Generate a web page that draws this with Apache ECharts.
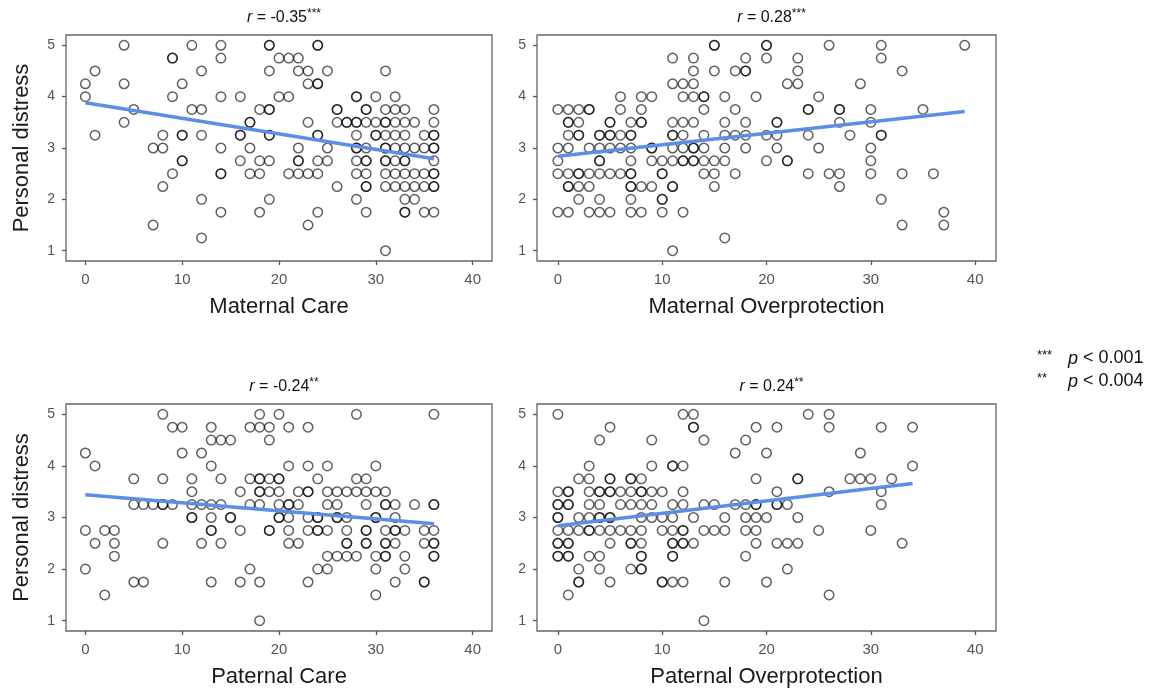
<!DOCTYPE html>
<html>
<head>
<meta charset="utf-8">
<script src="https://cdn.jsdelivr.net/npm/echarts@6/dist/echarts.min.js"></script>
<style>
  html, body { margin: 0; padding: 0; background: #fff; }
  #chart { width: 1160px; height: 692px; }
</style>
</head>
<body>
<div id="chart"></div>
<script>
// each row: [distress value, [scores at that value]]
const maternalCare = [
  [5, [4, 11, 14, 19, 19, 24, 24]],
  [4.75, [9, 9, 14, 20, 21, 22]],
  [4.5, [1, 12, 19, 22, 23, 25, 31]],
  [4.25, [0, 4, 10, 23, 24, 24]],
  [4, [0, 9, 14, 16, 20, 21, 28, 28, 30, 32]],
  [3.75, [5, 11, 12, 18, 19, 19, 26, 26, 29, 29, 31, 32, 33, 36]],
  [3.5, [4, 17, 17, 23, 26, 27, 27, 28, 28, 29, 30, 31, 31, 32, 33, 34, 36]],
  [3.25, [1, 8, 10, 10, 12, 16, 16, 19, 19, 24, 24, 28, 30, 30, 31, 32, 33, 35, 36, 36]],
  [3, [7, 8, 14, 17, 22, 25, 28, 28, 29, 31, 31, 32, 33, 34, 35, 36, 36]],
  [2.75, [10, 10, 16, 18, 19, 22, 22, 24, 25, 28, 29, 29, 31, 31, 32, 33, 33, 36]],
  [2.5, [9, 14, 14, 17, 18, 21, 22, 23, 24, 28, 29, 31, 32, 33, 34, 35, 36, 36]],
  [2.25, [8, 26, 29, 29, 31, 32, 33, 34, 35, 36, 36]],
  [2, [12, 19, 28, 33, 34]],
  [1.75, [14, 18, 24, 29, 33, 33, 35, 36]],
  [1.5, [7, 23]],
  [1.25, [12]],
  [1, [31]]
];
const maternalOverprotection = [
  [5, [15, 15, 20, 20, 26, 31, 39]],
  [4.75, [11, 13, 18, 20, 23, 31]],
  [4.5, [13, 15, 17, 18, 18, 23, 33]],
  [4.25, [11, 12, 13, 22, 23, 29]],
  [4, [6, 8, 9, 12, 13, 14, 14, 16, 19, 25]],
  [3.75, [0, 1, 2, 3, 3, 6, 8, 14, 17, 24, 24, 27, 27, 30, 35]],
  [3.5, [1, 1, 2, 5, 5, 7, 8, 8, 11, 12, 13, 16, 18, 21, 21, 27, 30]],
  [3.25, [1, 2, 2, 4, 4, 5, 5, 6, 7, 7, 11, 11, 12, 14, 16, 17, 18, 20, 21, 24, 28, 31, 31]],
  [3, [0, 1, 3, 4, 5, 6, 7, 9, 9, 11, 12, 13, 13, 14, 16, 18, 21, 25, 30]],
  [2.75, [0, 4, 4, 7, 9, 10, 11, 12, 12, 13, 13, 14, 15, 16, 20, 22, 22, 30]],
  [2.5, [0, 1, 2, 2, 3, 4, 5, 6, 7, 7, 10, 10, 14, 15, 17, 24, 26, 27, 30, 33, 36]],
  [2.25, [1, 1, 2, 3, 7, 7, 8, 9, 11, 11, 15, 27]],
  [2, [2, 4, 7, 10, 10, 31]],
  [1.75, [0, 1, 3, 4, 5, 7, 8, 10, 12, 37]],
  [1.5, [33, 37]],
  [1.25, [16]],
  [1, [11]]
];
const paternalCare = [
  [5, [8, 18, 20, 28, 36]],
  [4.75, [9, 10, 13, 17, 18, 19, 21, 23]],
  [4.5, [13, 14, 15, 19]],
  [4.25, [0, 10, 12]],
  [4, [1, 13, 21, 23, 25, 30]],
  [3.75, [5, 8, 11, 14, 17, 18, 18, 19, 20, 20, 24, 28, 29]],
  [3.5, [11, 16, 18, 18, 19, 20, 22, 23, 23, 25, 26, 27, 28, 29, 30, 31]],
  [3.25, [5, 6, 7, 8, 8, 9, 11, 12, 13, 14, 17, 18, 20, 21, 21, 22, 25, 26, 29, 31, 31, 32, 34, 36, 36]],
  [3, [11, 11, 13, 15, 15, 20, 20, 21, 23, 24, 24, 26, 26, 27, 30, 30, 32]],
  [2.75, [0, 2, 3, 13, 13, 16, 19, 19, 21, 23, 24, 24, 25, 27, 29, 29, 31, 32, 32, 33, 35, 36]],
  [2.5, [1, 3, 8, 12, 14, 21, 22, 27, 27, 29, 29, 31, 31, 32, 35, 36, 36]],
  [2.25, [3, 25, 26, 27, 28, 30, 31, 31, 33, 36, 36]],
  [2, [0, 17, 24, 25, 30, 33]],
  [1.75, [5, 6, 13, 16, 18, 23, 32, 35, 35]],
  [1.5, [2, 30]],
  [1, [18]]
];
const paternalOverprotection = [
  [5, [0, 12, 13, 24, 26]],
  [4.75, [5, 13, 13, 19, 21, 26, 31, 34]],
  [4.5, [4, 9, 14, 18]],
  [4.25, [17, 20, 29]],
  [4, [3, 9, 11, 11, 12, 34]],
  [3.75, [2, 3, 5, 5, 7, 7, 8, 19, 23, 23, 28, 29, 30, 32]],
  [3.5, [0, 1, 1, 3, 4, 4, 5, 5, 6, 7, 8, 8, 9, 10, 12, 21, 26, 31]],
  [3.25, [0, 0, 1, 1, 3, 4, 6, 7, 8, 9, 11, 12, 14, 15, 17, 18, 19, 19, 21, 21, 22, 31]],
  [3, [0, 0, 2, 3, 4, 4, 5, 5, 8, 9, 10, 11, 13, 16, 18, 19, 20, 23]],
  [2.75, [0, 1, 2, 3, 3, 4, 5, 6, 7, 8, 10, 11, 12, 12, 14, 15, 16, 18, 19, 25, 30]],
  [2.5, [0, 0, 1, 1, 5, 7, 7, 8, 11, 11, 12, 12, 13, 19, 21, 22, 23, 33]],
  [2.25, [0, 0, 1, 1, 3, 4, 8, 8, 11, 11, 18]],
  [2, [2, 4, 7, 8, 8, 22]],
  [1.75, [2, 2, 5, 10, 10, 11, 12, 16, 20]],
  [1.5, [1, 26]],
  [1, [14]]
];

// fitted line end points
const fitLines = [
  [[0, 3.88], [36, 2.79]],
  [[0, 2.84], [39, 3.71]],
  [[0, 3.44], [36, 2.88]],
  [[0, 2.84], [34, 3.66]]
];
const panelData = [maternalCare, maternalOverprotection, paternalCare, paternalOverprotection];
const xNames = ['Maternal Care', 'Maternal Overprotection', 'Paternal Care', 'Paternal Overprotection'];
const rValues = ['-0.35', '0.28', '-0.24', '0.24'];
const rStars = ['***', '***', '**', '**'];
const xTicks = [0, 10, 20, 30, 40];
const yTicks = [1, 2, 3, 4, 5];

const grids = [
  { left: 66, top: 35, width: 426, height: 226 },
  { left: 537, top: 35, width: 459, height: 226 },
  { left: 66, top: 404, width: 426, height: 227 },
  { left: 537, top: 404, width: 459, height: 227 }
];

const FONT = 'Liberation Sans, Arial, sans-serif';

const toPoints = (rows) => {
  const pts = [];
  rows.forEach(([y, xs]) => xs.forEach((x) => pts.push([x, y])));
  return pts;
};

const chart = echarts.init(document.getElementById('chart'), null, { renderer: 'canvas' });

const option = {
  animation: false,
  backgroundColor: '#fff',
  textStyle: { fontFamily: FONT },
  title: [
    ...grids.map((g, i) => ({
      text: `{i|r} = ${rValues[i]}{s|${rStars[i]}}`,
      left: g.left + g.width / 2,
      top: g.top - 32,
      textAlign: 'center',
      textStyle: {
        fontFamily: FONT,
        fontSize: 16,
        fontWeight: 'normal',
        color: '#111',
        rich: {
          i: { fontStyle: 'italic', fontSize: 16, color: '#111', fontFamily: FONT },
          s: { fontSize: 12, color: '#111', fontFamily: FONT, padding: [0, 0, 7, 0] }
        }
      }
    })),
    // 显著性说明
    {
      text: '{s|***}{i|p} < 0.001\n{s|**}{i|p} < 0.004',
      left: 1032,
      top: 342,
      textStyle: {
        fontFamily: FONT,
        fontSize: 18,
        fontWeight: 'normal',
        color: '#111',
        lineHeight: 23,
        rich: {
          i: { fontStyle: 'italic', fontSize: 18, color: '#111', fontFamily: FONT, lineHeight: 23 },
          s: { fontSize: 13, width: 31, color: '#111', fontFamily: FONT, padding: [0, 0, 7, 0], lineHeight: 23 }
        }
      }
    }
  ],
  grid: grids.map((g) => ({
    ...g,
    show: true,
    borderColor: '#666',
    borderWidth: 1.3,
    backgroundColor: 'transparent'
  })),
  xAxis: grids.map((g, i) => ({
    type: 'value',
    gridIndex: i,
    min: -2,
    max: 42,
    name: xNames[i],
    nameLocation: 'middle',
    nameGap: 35,
    nameTextStyle: { fontFamily: FONT, fontSize: 22, color: '#1a1a1a' },
    axisLine: { show: false, onZero: false },
    axisTick: { show: true, length: 4, customValues: xTicks, lineStyle: { color: '#555', width: 1.3 } },
    axisLabel: { customValues: xTicks, fontFamily: FONT, fontSize: 15, color: '#555', margin: 11 },
    splitLine: { show: false }
  })),
  yAxis: grids.map((g, i) => ({
    type: 'value',
    gridIndex: i,
    min: 0.8,
    max: 5.2,
    name: i % 2 === 0 ? 'Personal distress' : '',
    nameLocation: 'middle',
    nameGap: 33,
    nameTextStyle: { fontFamily: FONT, fontSize: 22, color: '#1a1a1a' },
    axisLine: { show: false, onZero: false },
    axisTick: { show: true, length: 4, customValues: yTicks, lineStyle: { color: '#555', width: 1.3 } },
    axisLabel: { customValues: yTicks, fontFamily: FONT, fontSize: 14, color: '#555', margin: 11 },
    splitLine: { show: false }
  })),
  series: [
    ...panelData.map((rows, i) => ({
      type: 'scatter',
      xAxisIndex: i,
      yAxisIndex: i,
      symbol: 'circle',
      symbolSize: 9.5,
      itemStyle: {
        color: 'rgba(0,0,0,0)',
        borderColor: 'rgba(0,0,0,0.78)',
        borderWidth: 1.5
      },
      data: toPoints(rows)
    })),
    ...fitLines.map((line, i) => ({
      type: 'line',
      xAxisIndex: i,
      yAxisIndex: i,
      showSymbol: false,
      z: 5,
      lineStyle: { color: '#5b8fe6', width: 3.5 },
      data: line
    }))
  ]
};

chart.setOption(option);
</script>
</body>
</html>
